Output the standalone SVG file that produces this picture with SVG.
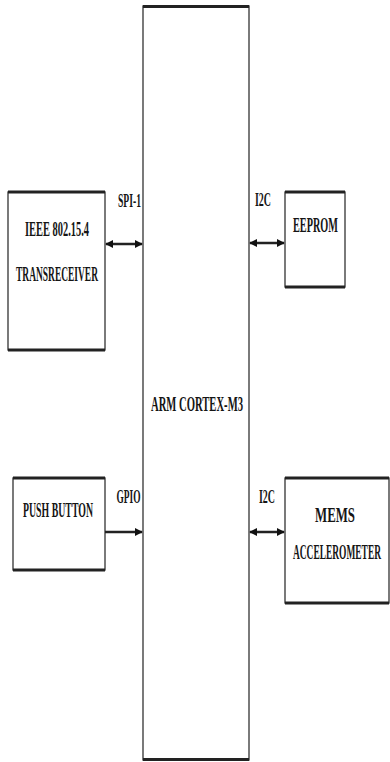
<svg xmlns="http://www.w3.org/2000/svg" width="390" height="762" viewBox="0 0 390 762">
<style>
.box{fill:#fff;stroke:#333;stroke-width:1.3}
.edge{stroke:#222;stroke-width:3}
.t{font-family:"Liberation Serif","Times New Roman",serif;font-weight:bold;font-size:22px;fill:#151515;text-anchor:middle}
.lbl{font-family:"Liberation Serif","Times New Roman",serif;font-weight:bold;font-size:18px;fill:#151515;text-anchor:middle}
.conn{stroke:#222;stroke-width:2.5;fill:none}
</style>
<defs>
<marker id="ah" viewBox="0 0 10 10" refX="9" refY="5" markerWidth="3.2" markerHeight="4" orient="auto-start-reverse" markerUnits="strokeWidth">
<path d="M0,0 L10,5 L0,10 Z" fill="#111"/>
</marker>
</defs>
<rect width="390" height="762" fill="#fff"/>
<g id="arm">
<rect class="box" x="143" y="6" width="106" height="754"/>
<line class="edge" x1="143" y1="6.5" x2="249" y2="6.5"/>
<line class="edge" x1="143" y1="759.5" x2="249" y2="759.5"/>
<text class="t" x="197" y="411" textLength="92" lengthAdjust="spacingAndGlyphs">ARM CORTEX-M3</text>
</g>
<g id="ieee">
<rect class="box" x="8" y="192" width="97" height="158"/>
<line class="edge" x1="8" y1="192" x2="105" y2="192"/>
<line class="edge" x1="8" y1="350" x2="105" y2="350"/>
<text class="t" x="57" y="236" textLength="64" lengthAdjust="spacingAndGlyphs">IEEE 802.15.4</text>
<text class="t" x="57" y="281" textLength="82" lengthAdjust="spacingAndGlyphs">TRANSRECEIVER</text>
</g>
<g id="eeprom">
<rect class="box" x="285" y="192" width="60" height="95"/>
<line class="edge" x1="285" y1="192" x2="345" y2="192"/>
<line class="edge" x1="285" y1="287" x2="345" y2="287"/>
<text class="t" x="315.5" y="232" textLength="45" lengthAdjust="spacingAndGlyphs">EEPROM</text>
</g>
<g id="push">
<rect class="box" x="13" y="478" width="92" height="92"/>
<line class="edge" x1="13" y1="478" x2="105" y2="478"/>
<line class="edge" x1="13" y1="570" x2="105" y2="570"/>
<text class="t" x="58" y="517" textLength="70" lengthAdjust="spacingAndGlyphs">PUSH BUTTON</text>
</g>
<g id="mems">
<rect class="box" x="285" y="478" width="104" height="125"/>
<line class="edge" x1="285" y1="478" x2="389" y2="478"/>
<line class="edge" x1="285" y1="603" x2="389" y2="603"/>
<text class="t" x="335" y="522" textLength="40" lengthAdjust="spacingAndGlyphs">MEMS</text>
<text class="t" x="337" y="559" textLength="88" lengthAdjust="spacingAndGlyphs">ACCELEROMETER</text>
</g>
<g id="connectors">
<line class="conn" x1="106" y1="244" x2="142" y2="244" marker-start="url(#ah)" marker-end="url(#ah)"/>
<line class="conn" x1="250" y1="243" x2="284" y2="243" marker-start="url(#ah)" marker-end="url(#ah)"/>
<line class="conn" x1="105" y1="532" x2="142" y2="532" marker-end="url(#ah)"/>
<line class="conn" x1="250" y1="532" x2="284" y2="532" marker-start="url(#ah)" marker-end="url(#ah)"/>
<text class="lbl" x="129.5" y="207" textLength="23" lengthAdjust="spacingAndGlyphs">SPI-1</text>
<text class="lbl" x="263" y="206" textLength="16" lengthAdjust="spacingAndGlyphs">I2C</text>
<text class="lbl" x="128.5" y="503" textLength="24" lengthAdjust="spacingAndGlyphs">GPIO</text>
<text class="lbl" x="267" y="503" textLength="16" lengthAdjust="spacingAndGlyphs">I2C</text>
</g>
</svg>
